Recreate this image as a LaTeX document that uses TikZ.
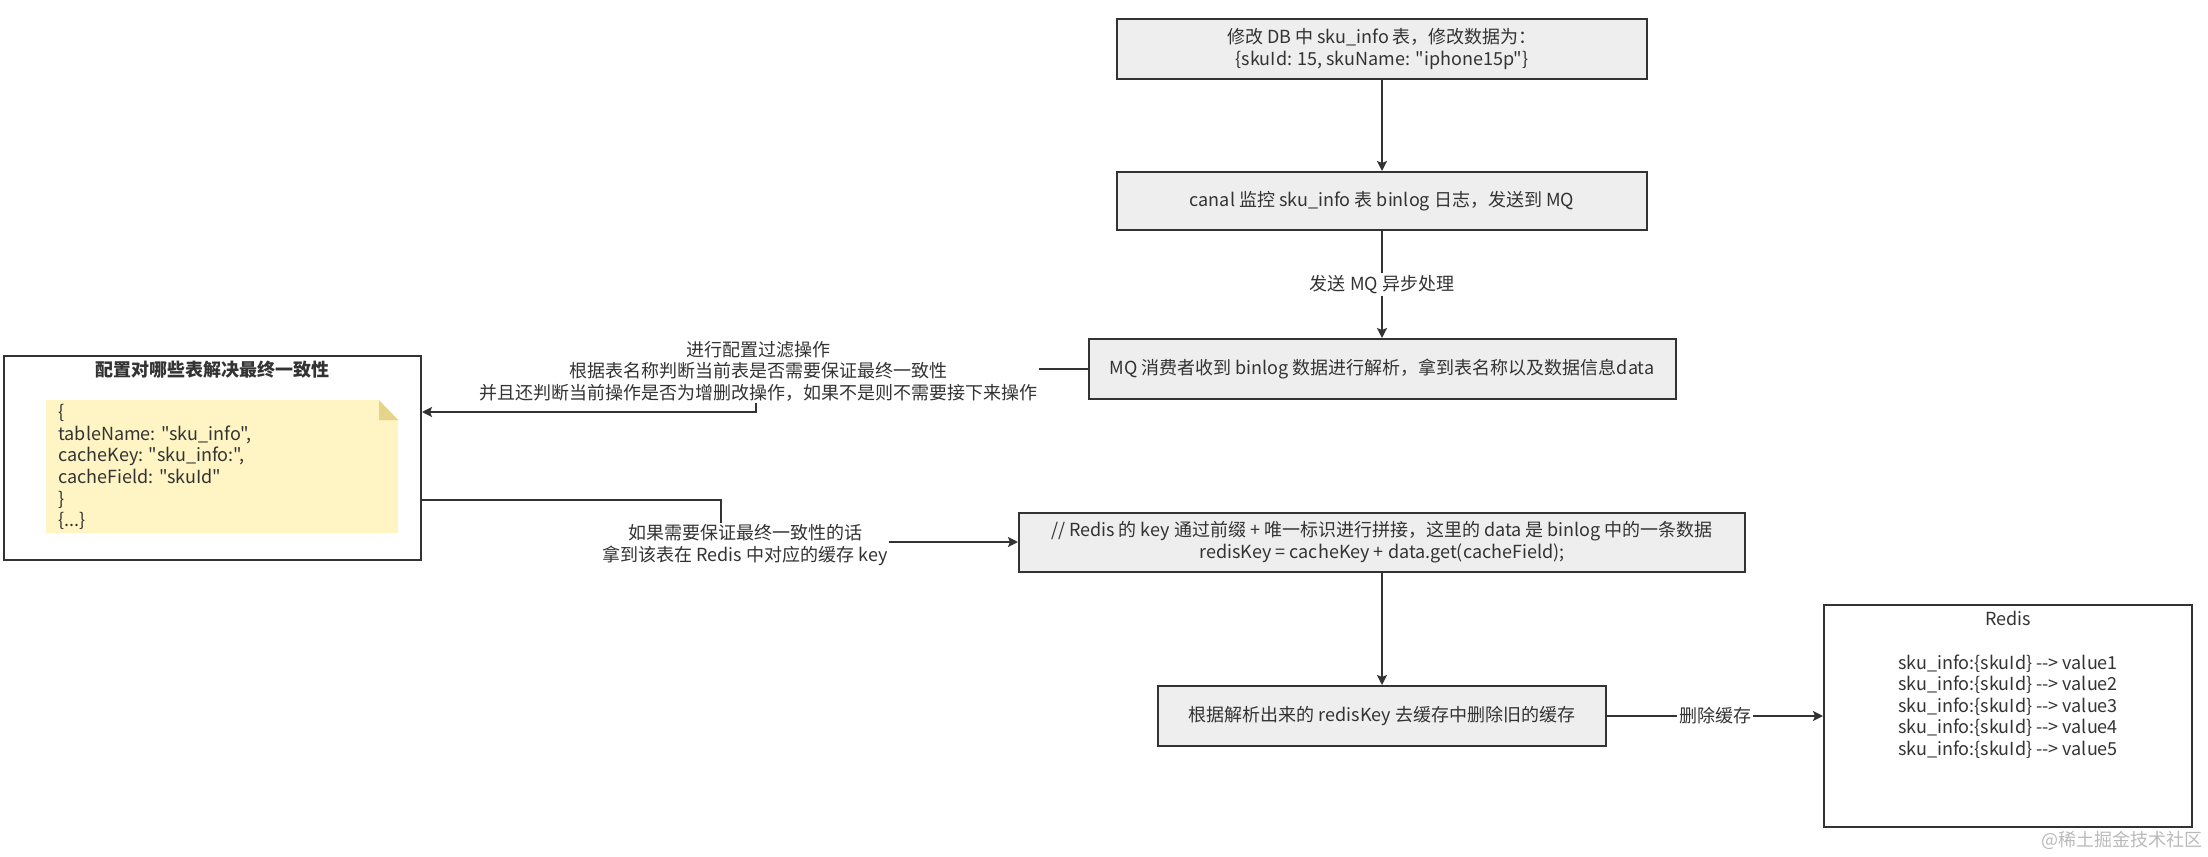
\documentclass[tikz,border=0pt]{standalone}
\usepackage{fontspec}
\setmainfont{Noto Sans CJK SC}[Ligatures=TeXOff]
\usetikzlibrary{positioning, arrows.meta}
\definecolor{boxgray}{RGB}{238,238,238}
\definecolor{linegray}{RGB}{51,51,51}
\definecolor{notey}{RGB}{255,244,195}
\definecolor{notefold}{RGB}{230,212,140}
\tikzset{
  box/.style={draw=linegray, line width=1pt, fill=boxgray, text=linegray, align=center, inner sep=0pt},
  frame/.style={draw=linegray, line width=1pt, fill=white, inner sep=0pt},
  arr/.style={draw=linegray, line width=1pt, -{Stealth[length=5pt, width=5pt, inset=1pt]}},
  elabel/.style={fill=white, text=linegray, align=center, inner sep=1pt},
}

\begin{document}
\begin{tikzpicture}[x=0.5pt, y=-0.5pt, font=\fontsize{9}{10.8}\selectfont]
    \useasboundingbox (0,0) rectangle (2208,857);

    %% main flow
    \node[box, minimum width=265pt, minimum height=30pt] (db) at (1382,49)
        {修改 DB 中 sku\_info 表，修改数据为：\\ \{skuId: 15, skuName: "iphone15p"\}};
    \node[box, minimum width=265pt, minimum height=29pt] (canal) at (1382,201)
        {canal 监控 sku\_info 表 binlog 日志，发送到 MQ};
    \node[box, minimum width=293.5pt, minimum height=30pt] (mq) at (1382,369)
        {MQ 消费者收到 binlog 数据进行解析，拿到表名称以及数据信息data};
    \node[box, minimum width=363pt, minimum height=29.5pt] (rk) at (1382,542)
        {// Redis 的 key 通过前缀 + 唯一标识进行拼接，这里的 data 是 binlog 中的一条数据\\ redisKey = cacheKey + data.get(cacheField);};
    \node[box, minimum width=224pt, minimum height=30pt] (del) at (1382,716)
        {根据解析出来的 redisKey 去缓存中删除旧的缓存};

    %% redis
    \node[frame, minimum width=184pt, minimum height=111pt] (redis) at (2008,716) {};
    \node[text=linegray, align=center, anchor=north] (redistxt) at (2008,604)
        {Redis\\[11pt]
         sku\_info:\{skuId\} -{}-> value1\\
         sku\_info:\{skuId\} -{}-> value2\\
         sku\_info:\{skuId\} -{}-> value3\\
         sku\_info:\{skuId\} -{}-> value4\\
         sku\_info:\{skuId\} -{}-> value5};

    %% config
    \node[frame, minimum width=208.5pt, minimum height=102pt] (cfg) at (212.5,458) {};
    \node[text=linegray, font=\fontsize{9}{10.8}\selectfont\bfseries] (cfgtitle) at (212,370)
        {配置对哪些表解决最终一致性};
    \fill[notey] (46,400) -- (379,400) -- (398,420) -- (398,533) -- (46,533) -- cycle;
    \fill[notefold] (379,400) -- (398,420) -- (379,420) -- cycle;
    \node[text=linegray, align=left, anchor=west, inner sep=0pt] (notetxt) at (58,467)
        {\{\\
         tableName: "sku\_info",\\
         cacheKey: "sku\_info:",\\
         cacheField: "skuId"\\
         \}\\
         \{...\}};

    %% connectors
    \coordinate (bendA) at (756,369);
    \coordinate (bendB) at (756,412);
    \coordinate (bendC) at (721,500);
    \coordinate (bendD) at (721,542);

    \draw[arr] (db) -- (canal);
    \draw[arr] (canal) -- node[elabel] (send) {发送 MQ 异步处理} (mq);
    \draw[arr] (mq.west) -- (bendA) -- (bendB) -- (cfg.east |- bendB);
    \draw[arr] (cfg.east |- bendC) -- (bendC) -- (bendD) -- (rk.west);
    \draw[arr] (rk) -- (del);
    \draw[arr] (del) -- node[elabel] (drop) {删除缓存} (redis);

    \node[elabel] (filt) at (758,371)
        {进行配置过滤操作\\ 根据表名称判断当前表是否需要保证最终一致性\\ 并且还判断当前操作是否为增删改操作，如果不是则不需要接下来操作};
    \node[elabel] (keyl) at (745,545)
        {如果需要保证最终一致性的话\\ 拿到该表在 Redis 中对应的缓存 key};

    \node[text=gray!55] (wm) at (2122,840) {@稀土掘金技术社区};
\end{tikzpicture}
\end{document}
